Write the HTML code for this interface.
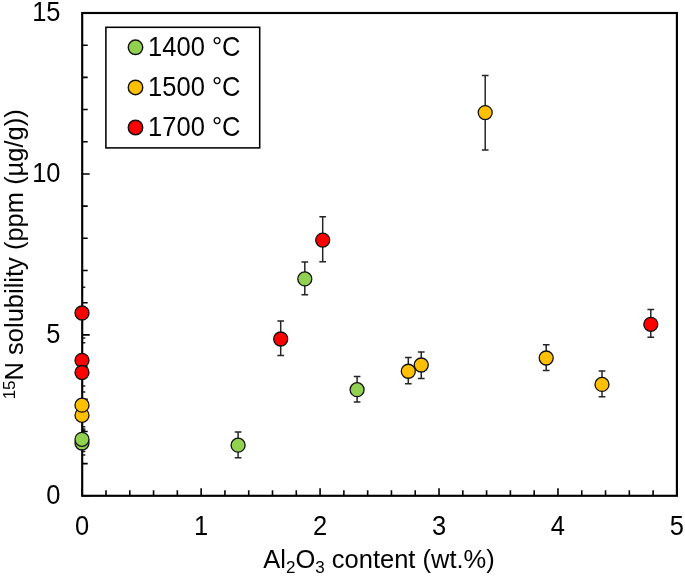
<!DOCTYPE html>
<html lang="en"><head><meta charset="utf-8"><title>15N solubility vs Al2O3 content</title>
<style>html,body{margin:0;padding:0;background:#fff}body{width:685px;height:576px;overflow:hidden}</style></head>
<body>
<svg width="685" height="576" viewBox="0 0 685 576" style="display:block">
<rect x="0" y="0" width="685" height="576" fill="#fff"/>
<g font-family="'Liberation Sans', Arial, sans-serif" font-size="25.5" fill="#000">
<path d="M82.20 495.80V488.30M105.99 495.80V490.30M129.78 495.80V490.30M153.56 495.80V490.30M177.35 495.80V490.30M201.14 495.80V488.30M224.93 495.80V490.30M248.72 495.80V490.30M272.50 495.80V490.30M296.29 495.80V490.30M320.08 495.80V488.30M343.87 495.80V490.30M367.66 495.80V490.30M391.44 495.80V490.30M415.23 495.80V490.30M439.02 495.80V488.30M462.81 495.80V490.30M486.60 495.80V490.30M510.38 495.80V490.30M534.17 495.80V490.30M557.96 495.80V488.30M581.75 495.80V490.30M605.54 495.80V490.30M629.32 495.80V490.30M653.11 495.80V490.30M676.90 495.80V488.30M82.20 495.80H89.70M82.20 463.61H87.70M82.20 431.43H87.70M82.20 399.24H87.70M82.20 367.05H87.70M82.20 334.87H89.70M82.20 302.68H87.70M82.20 270.49H87.70M82.20 238.31H87.70M82.20 206.12H87.70M82.20 173.93H89.70M82.20 141.75H87.70M82.20 109.56H87.70M82.20 77.37H87.70M82.20 45.19H87.70M82.20 13.00H89.70" stroke="#000" stroke-width="1.6" fill="none"/>
<clipPath id="pc"><rect x="82.2" y="13.0" width="594.70" height="482.80"/></clipPath>
<path clip-path="url(#pc)" d="M82.00 430.60V454.90M78.65 430.60H85.35M78.65 454.90H85.35M82.00 426.80V451.50M78.65 426.80H85.35M78.65 451.50H85.35M238.10 432.00V457.70M234.75 432.00H241.45M234.75 457.70H241.45M304.80 261.90V294.80M301.45 261.90H308.15M301.45 294.80H308.15M357.10 376.40V402.10M353.75 376.40H360.45M353.75 402.10H360.45M82.00 401.60V429.00M78.65 401.60H85.35M78.65 429.00H85.35M82.00 392.10V418.30M78.65 392.10H85.35M78.65 418.30H85.35M408.30 357.50V383.75M404.95 357.50H411.65M404.95 383.75H411.65M421.25 352.00V378.60M417.90 352.00H424.60M417.90 378.60H424.60M485.20 75.60V149.90M481.85 75.60H488.55M481.85 149.90H488.55M546.20 344.70V370.40M542.85 344.70H549.55M542.85 370.40H549.55M602.00 371.10V396.80M598.65 371.10H605.35M598.65 396.80H605.35M82.00 287.30V337.90M78.65 287.30H85.35M78.65 337.90H85.35M82.00 342.80V377.80M78.65 342.80H85.35M78.65 377.80H85.35M82.00 359.00V386.00M78.65 359.00H85.35M78.65 386.00H85.35M280.70 321.00V355.40M277.35 321.00H284.05M277.35 355.40H284.05M322.70 216.80V261.80M319.35 216.80H326.05M319.35 261.80H326.05M650.80 309.40V337.20M647.45 309.40H654.15M647.45 337.20H654.15" stroke="#262626" stroke-width="1.5" fill="none"/>
<rect x="82.2" y="13.0" width="594.70" height="482.80" fill="none" stroke="#000" stroke-width="2.15"/>
<circle cx="82.00" cy="443.00" r="7.0" fill="#92D050" stroke="#111" stroke-width="1.3"/>
<circle cx="82.00" cy="439.30" r="7.0" fill="#92D050" stroke="#111" stroke-width="1.3"/>
<circle cx="238.10" cy="445.20" r="7.0" fill="#92D050" stroke="#111" stroke-width="1.3"/>
<circle cx="304.80" cy="278.90" r="7.0" fill="#92D050" stroke="#111" stroke-width="1.3"/>
<circle cx="357.10" cy="389.70" r="7.0" fill="#92D050" stroke="#111" stroke-width="1.3"/>
<circle cx="82.00" cy="415.30" r="7.0" fill="#FFC000" stroke="#111" stroke-width="1.3"/>
<circle cx="82.00" cy="405.20" r="7.0" fill="#FFC000" stroke="#111" stroke-width="1.3"/>
<circle cx="408.30" cy="371.25" r="7.0" fill="#FFC000" stroke="#111" stroke-width="1.3"/>
<circle cx="421.25" cy="365.00" r="7.0" fill="#FFC000" stroke="#111" stroke-width="1.3"/>
<circle cx="485.20" cy="112.60" r="7.0" fill="#FFC000" stroke="#111" stroke-width="1.3"/>
<circle cx="546.20" cy="358.00" r="7.0" fill="#FFC000" stroke="#111" stroke-width="1.3"/>
<circle cx="602.00" cy="384.40" r="7.0" fill="#FFC000" stroke="#111" stroke-width="1.3"/>
<circle cx="82.00" cy="313.00" r="7.0" fill="#FF0000" stroke="#111" stroke-width="1.3"/>
<circle cx="82.00" cy="360.30" r="7.0" fill="#FF0000" stroke="#111" stroke-width="1.3"/>
<circle cx="82.00" cy="372.50" r="7.0" fill="#FF0000" stroke="#111" stroke-width="1.3"/>
<circle cx="280.70" cy="339.00" r="7.0" fill="#FF0000" stroke="#111" stroke-width="1.3"/>
<circle cx="322.70" cy="240.10" r="7.0" fill="#FF0000" stroke="#111" stroke-width="1.3"/>
<circle cx="650.80" cy="324.30" r="7.0" fill="#FF0000" stroke="#111" stroke-width="1.3"/>
<rect x="105.9" y="27.3" width="153.8" height="120.6" fill="#fff" stroke="#000" stroke-width="1.55"/>
<circle cx="135.5" cy="47.30" r="7.25" fill="#92D050" stroke="#111" stroke-width="1.45"/>
<text transform="translate(148.1 56) scale(1 1.075)">1400 °C</text>
<circle cx="135.5" cy="87.40" r="7.25" fill="#FFC000" stroke="#111" stroke-width="1.45"/>
<text transform="translate(148.1 96) scale(1 1.075)">1500 °C</text>
<circle cx="135.5" cy="127.50" r="7.25" fill="#FF0000" stroke="#111" stroke-width="1.45"/>
<text transform="translate(148.1 136) scale(1 1.075)">1700 °C</text>
<text transform="translate(60.5 504) scale(1 1.075)" text-anchor="end">0</text>
<text transform="translate(60.5 343) scale(1 1.075)" text-anchor="end">5</text>
<text transform="translate(60.5 182) scale(1 1.075)" text-anchor="end">10</text>
<text transform="translate(60.5 21) scale(1 1.075)" text-anchor="end">15</text>
<text transform="translate(82.20 535) scale(1 1.075)" text-anchor="middle">0</text>
<text transform="translate(201.14 535) scale(1 1.075)" text-anchor="middle">1</text>
<text transform="translate(320.08 535) scale(1 1.075)" text-anchor="middle">2</text>
<text transform="translate(439.02 535) scale(1 1.075)" text-anchor="middle">3</text>
<text transform="translate(557.96 535) scale(1 1.075)" text-anchor="middle">4</text>
<text transform="translate(676.90 535) scale(1 1.075)" text-anchor="middle">5</text>
<text x="379.0" y="567.6" text-anchor="middle">Al<tspan font-size="17" dy="5">2</tspan><tspan dy="-5">O</tspan><tspan font-size="17" dy="5">3</tspan><tspan dy="-5"> content (wt.%)</tspan></text>
<text transform="translate(22.8 254.3) rotate(-90)" text-anchor="middle"><tspan font-size="17" dy="-7.4">15</tspan><tspan dy="7.4">N solubility (ppm (µg/g))</tspan></text>
</g></svg>
</body></html>
